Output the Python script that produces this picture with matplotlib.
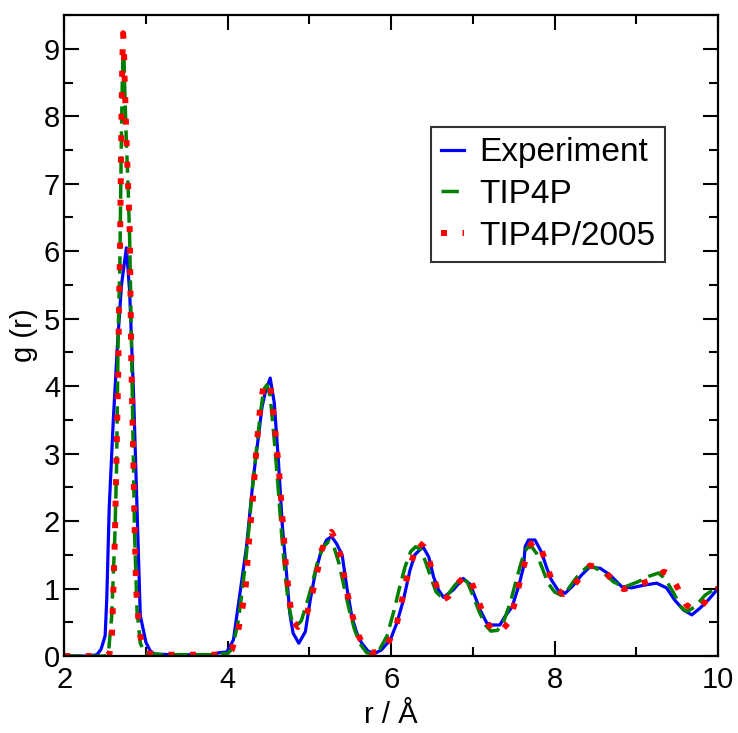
import matplotlib
matplotlib.use("Agg")
import matplotlib.pyplot as plt
from matplotlib.ticker import MultipleLocator

# datos: g(r) del agua
r_exp = [2.0, 2.3, 2.4, 2.45, 2.5, 2.52, 2.55, 2.6, 2.65, 2.7, 2.76, 2.8, 2.85, 2.9, 2.93,
         3.0, 3.05, 3.1, 3.3, 3.8, 3.9, 3.99, 4.07, 4.15, 4.23, 4.31, 4.42, 4.46, 4.52, 4.57,
         4.62, 4.67, 4.72, 4.76, 4.80, 4.87, 4.95, 5.01, 5.07, 5.14, 5.21, 5.27, 5.33, 5.40,
         5.46, 5.52, 5.58, 5.64, 5.72, 5.80, 5.88, 5.99, 6.07, 6.15, 6.23, 6.29, 6.39, 6.46,
         6.52, 6.58, 6.64, 6.76, 6.88, 6.97, 7.03, 7.09, 7.17, 7.23, 7.33, 7.39, 7.48, 7.56,
         7.62, 7.64, 7.68, 7.76, 7.84, 7.90, 7.96, 8.04, 8.13, 8.23, 8.33, 8.43, 8.56, 8.68,
         8.82, 8.94, 9.09, 9.25, 9.37, 9.47, 9.58, 9.68, 9.78, 9.88, 10.0]
g_exp = [0.0, 0.0, 0.02, 0.1, 0.3, 0.85, 2.2, 3.5, 4.6, 5.5, 6.05, 5.4, 3.8, 1.8, 0.6,
         0.2, 0.08, 0.03, 0.02, 0.02, 0.05, 0.06, 0.24, 0.93, 1.62, 2.6, 3.69, 3.91, 4.12, 3.75,
         2.9, 1.91, 1.22, 0.63, 0.34, 0.19, 0.36, 0.83, 1.22, 1.54, 1.72, 1.77, 1.67, 1.5,
         1.0, 0.58, 0.34, 0.19, 0.07, 0.04, 0.09, 0.24, 0.49, 0.83, 1.27, 1.5, 1.62, 1.47,
         1.17, 0.98, 0.87, 0.98, 1.15, 1.06, 0.87, 0.68, 0.49, 0.46, 0.46, 0.58, 0.73, 1.03,
         1.32, 1.62, 1.72, 1.72, 1.54, 1.32, 1.13, 0.98, 0.93, 1.05, 1.2, 1.32, 1.30, 1.2,
         1.03, 1.01, 1.05, 1.08, 1.01, 0.83, 0.68, 0.61, 0.71, 0.83, 1.0]

r_tip4p = [2.0, 2.3, 2.5, 2.54, 2.58, 2.62, 2.64, 2.65, 2.66, 2.68, 2.69, 2.70, 2.71, 2.72,
           2.73, 2.74, 2.76, 2.78, 2.79, 2.80, 2.82, 2.84, 2.86, 2.89, 2.93, 2.99, 3.2, 3.5,
           3.8, 4.0, 4.05, 4.12, 4.17, 4.22, 4.26, 4.30, 4.35, 4.40, 4.44, 4.48, 4.52, 4.57,
           4.62, 4.66, 4.70, 4.74, 4.78, 4.84, 4.90, 4.96, 5.03, 5.10, 5.17, 5.24, 5.30, 5.36,
           5.42, 5.48, 5.55, 5.62, 5.70, 5.78, 5.86, 5.95, 6.03, 6.10, 6.17, 6.24, 6.30, 6.36,
           6.42, 6.49, 6.55, 6.62, 6.70, 6.78, 6.86, 6.93, 7.00, 7.08, 7.16, 7.22, 7.30, 7.38,
           7.46, 7.53, 7.60, 7.66, 7.72, 7.78, 7.85, 7.92, 8.00, 8.08, 8.16, 8.24, 8.32, 8.40,
           8.48, 8.60, 8.72, 8.85, 9.02, 9.15, 9.27, 9.35, 9.45, 9.55, 9.62, 9.72, 9.84, 10.0]
g_tip4p = [0.0, 0.0, 0.0, 0.04, 0.58, 1.82, 2.8, 3.8, 4.8, 5.77, 6.8, 7.8, 8.5, 8.95,
           8.9, 8.4, 7.6, 7.0, 6.6, 6.2, 4.8, 3.3, 1.82, 0.68, 0.19, 0.04, 0.02, 0.02,
           0.02, 0.04, 0.1, 0.45, 0.9, 1.4, 1.9, 2.45, 3.05, 3.6, 3.95, 4.02, 3.85, 3.2,
           2.45, 1.8, 1.25, 0.8, 0.55, 0.45, 0.52, 0.75, 1.05, 1.4, 1.62, 1.70, 1.62, 1.38,
           1.05, 0.72, 0.4, 0.18, 0.05, 0.03, 0.1, 0.3, 0.65, 1.0, 1.32, 1.55, 1.62, 1.58,
           1.4, 1.15, 0.95, 0.87, 0.92, 1.05, 1.15, 1.1, 0.9, 0.65, 0.45, 0.37, 0.38, 0.52,
           0.8, 1.12, 1.42, 1.6, 1.62, 1.52, 1.3, 1.08, 0.95, 0.9, 0.98, 1.12, 1.24, 1.32,
           1.32, 1.23, 1.1, 1.02, 1.1, 1.18, 1.23, 1.15, 0.95, 0.72, 0.66, 0.73, 0.9, 1.03]

r_tip2005 = [2.0, 2.3, 2.5, 2.55, 2.58, 2.60, 2.62, 2.64, 2.66, 2.67, 2.68, 2.69, 2.70, 2.71,
             2.72, 2.73, 2.74, 2.76, 2.78, 2.79, 2.80, 2.82, 2.84, 2.86, 2.88, 2.92, 2.99, 3.2,
             3.5, 3.84, 4.0, 4.05, 4.13, 4.18, 4.22, 4.26, 4.31, 4.35, 4.40, 4.44, 4.48, 4.52,
             4.58, 4.63, 4.67, 4.71, 4.74, 4.77, 4.81, 4.86, 4.92, 4.97, 5.04, 5.10, 5.15, 5.21,
             5.27, 5.32, 5.37, 5.42, 5.47, 5.53, 5.61, 5.68, 5.75, 5.85, 5.95, 6.06, 6.12, 6.18,
             6.25, 6.33, 6.40, 6.46, 6.53, 6.58, 6.63, 6.70, 6.77, 6.85, 6.92, 6.98, 7.04, 7.13,
             7.20, 7.26, 7.35, 7.44, 7.52, 7.58, 7.65, 7.71, 7.77, 7.83, 7.88, 7.96, 8.03, 8.11,
             8.19, 8.27, 8.35, 8.43, 8.52, 8.61, 8.68, 8.75, 8.85, 8.94, 9.05, 9.15, 9.25, 9.34,
             9.42, 9.49, 9.55, 9.61, 9.70, 9.77, 9.84, 9.91, 10.0]
g_tip2005 = [0.0, 0.0, 0.0, 0.02, 0.19, 0.95, 1.8, 3.0, 4.2, 5.2, 5.84, 6.9, 8.0, 8.8,
             9.23, 9.0, 8.5, 7.7, 7.0, 6.7, 6.36, 4.4, 3.2, 1.97, 0.98, 0.34, 0.04, 0.02,
             0.02, 0.02, 0.04, 0.09, 0.39, 0.71, 1.03, 1.69, 2.36, 3.05, 3.72, 4.01, 4.06, 4.03,
             3.37, 2.71, 2.04, 1.37, 1.03, 0.71, 0.5, 0.43, 0.5, 0.63, 0.95, 1.27, 1.57, 1.75,
             1.84, 1.72, 1.54, 1.22, 0.9, 0.58, 0.28, 0.12, 0.05, 0.06, 0.16, 0.43, 0.75, 1.1,
             1.4, 1.69, 1.62, 1.45, 1.13, 0.95, 0.83, 0.88, 1.02, 1.12, 1.2, 1.1, 0.92, 0.61,
             0.45, 0.36, 0.38, 0.5, 0.81, 1.13, 1.45, 1.66, 1.71, 1.6, 1.44, 1.14, 0.98, 0.92,
             0.98, 1.1, 1.22, 1.34, 1.32, 1.27, 1.16, 1.04, 0.99, 1.03, 1.07, 1.11, 1.18, 1.25,
             1.2, 1.05, 0.9, 0.76, 0.68, 0.70, 0.8, 0.96, 1.0]

plt.rcParams['font.family'] = ['Liberation Sans', 'DejaVu Sans']

fig = plt.figure(figsize=(7.38, 7.33), dpi=100)
ax = fig.add_axes([0.0871, 0.105, 0.8858, 0.8745])

ax.plot(r_exp, g_exp, color='#0000ff', lw=2.3, label='Experiment')
ax.plot(r_tip4p, g_tip4p, color='#008000', lw=2.5, linestyle=(0, (5, 2.2)), label='TIP4P')
ax.plot(r_tip2005, g_tip2005, color='#ff0000', lw=4.3, linestyle=(0, (1, 2.6)), label='TIP4P/2005')

ax.set_xlim(2, 10)
ax.set_ylim(0, 9.5)
ax.xaxis.set_major_locator(MultipleLocator(2))
ax.xaxis.set_minor_locator(MultipleLocator(1))
ax.yaxis.set_major_locator(MultipleLocator(1))
ax.yaxis.set_minor_locator(MultipleLocator(0.5))
ax.tick_params(which='both', direction='in', top=True, right=True, width=1.5, labelsize=21)
ax.tick_params(axis='y', pad=3)
ax.tick_params(axis='x', pad=7)
ax.tick_params(which='major', length=11)
ax.tick_params(which='minor', length=6.5)
for s in ax.spines.values():
    s.set_linewidth(1.6)

ax.set_xlabel('r / Å', fontsize=21, labelpad=5)
ax.set_ylabel('g (r)', fontsize=21, labelpad=4)

leg = ax.legend(loc='upper left', bbox_to_anchor=(0.561, 0.825), borderaxespad=0,
                fontsize=24, fancybox=False, frameon=True, handlelength=0.7,
                handletextpad=0.45, labelspacing=0.32, borderpad=0.3)
leg.get_frame().set_edgecolor('black')
leg.get_frame().set_linewidth(1.5)

plt.savefig('out.png', dpi=100)
